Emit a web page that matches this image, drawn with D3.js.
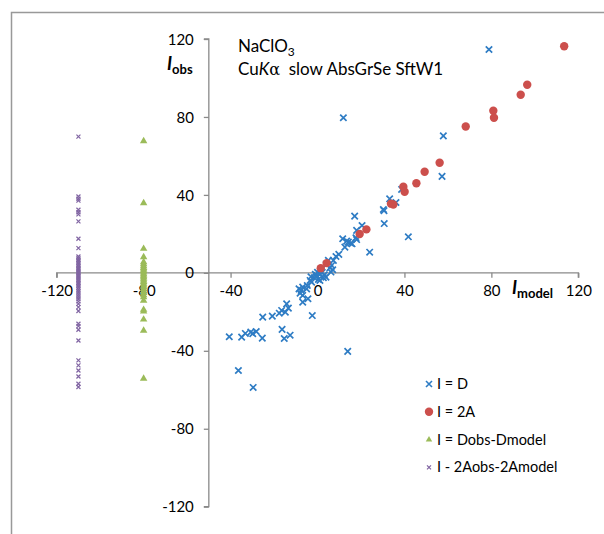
<!DOCTYPE html>
<html><head><meta charset="utf-8">
<script src="https://cdn.jsdelivr.net/npm/d3@7"></script>
<style>
html,body{margin:0;padding:0;background:#fff;}
svg{display:block;font-family:Lato,"Open Sans",sans-serif;}
</style></head>
<body>
<svg id="c" width="604" height="534"></svg>
<script>
// ---- data ----
const seriesNames = ["I = D", "I = 2A", "I = Dobs-Dmodel", "I - 2Aobs-2Amodel"];
const xTicks = [-120, -80, -40, 0, 40, 80, 120];
const yTicks = [-120, -80, -40, 0, 40, 80, 120];
// I = D : [Imodel, Iobs]
const seriesD = [
 [78.9,114.6],[11.9,79.6],[57.9,70.3],[57.3,49.5],[41.8,18.5],[33.2,38.0],[36.1,36.1],
 [30.3,32.5],[30.6,31.9],[30.7,25.3],[38.7,42.8],[17.1,29.1],[20.5,24.3],[18.0,21.8],
 [17.7,18.0],[11.6,17.5],[13.4,16.3],[15.3,15.2],[12.6,13.2],[14.2,15.8],[15.9,14.9],
 [18.0,17.1],[24.0,10.6],[8.5,8.4],[5.0,6.4],[7.3,6.4],[6.5,3.8],[5.7,2.6],[6.2,0.4],
 [3.1,-1.0],[-2.4,-21.9],[-14.2,-15.9],[-13.4,-18.1],[-14.8,-20.2],[-16.5,-19.3],
 [-17.6,-20.7],[-20.8,-22.2],[-25.2,-22.7],[-16.3,-29.0],[-15.3,-33.7],[-12.6,-32.0],
 [-40.6,-32.8],[-34.9,-33.0],[-33.2,-31.1],[-30.7,-30.4],[-29.8,-31.2],[-28.2,-30.1],
 [-25.4,-33.5],[-36.4,-50.1],[13.9,-40.3],[-29.6,-58.8],[-8.5,-8.2],[-6.8,-7.3],
 [-8.0,-10.4],[-6.8,-11.6],[-4.4,-13.3],[-6.8,-15.0],[-4.7,-6.5],[-3.4,-3.9],[-1.5,-2.5],
 [-0.4,-1.3],[1.1,-0.5],[2.2,0.2],[3.9,-2.2],[2.7,-2.5],[0.4,-3.4],[1.1,-3.9],[-2.7,-4.8],
 [-5.0,-8.2],[7.0,1.6],[9.8,9.5],[4.0,4.2],[0.0,0.3],[-1.0,-0.8],[-3.0,-2.0],[-7.5,-9.0]
];
// I = 2A
const series2A = [
 [113.5,116.3],[96.5,96.5],[93.5,91.4],[80.9,83.2],[81.2,79.6],[68.2,75.1],[56.2,56.5],
 [49.3,51.9],[45.5,46.0],[39.5,44.2],[40.1,41.6],[33.8,35.5],[34.9,35.1],[22.5,22.3],
 [19.4,19.9],[1.5,2.4],[4.2,5.0]
];
// I = Dobs-Dmodel (plotted at x = -80)
const diffDx = -80;
const diffD = [67.6,35.8,12.4,8.1,5.5,4.5,3.5,2.6,1.8,1.0,0.2,-0.6,-1.4,-2.2,-3.0,-3.8,
 -4.6,-5.5,-6.4,-7.3,-8.2,-9.2,-10.3,-11.4,-12.5,-14.2,-18.9,-19.8,-23.9,-29.6,-54.3];
// I - 2Aobs-2Amodel (plotted at x = -110)
const diff2Ax = -110;
const diff2A = [69.9,39.2,38.0,37.1,32.4,31.1,30.0,26.4,17.5,12.7,8.4,7.5,6.6,5.8,5.0,4.2,
 3.4,2.6,1.9,1.2,0.5,-0.2,-0.9,-1.6,-2.3,-3.0,-3.7,-4.4,-5.2,-6.0,-6.8,-7.6,-8.5,-9.4,
 -10.3,-11.3,-12.3,-13.4,-14.6,-15.9,-17.6,-19.6,-26.1,-27.3,-29.2,-34.7,-44.9,-47.5,
 -50.1,-53.2,-56.9,-58.6];

// ---- drawing ----
const svg = d3.select("#c");
const colors = ["#2e7cc4", "#cc4f4c", "#9bbb59", "#8064a2"];
const x = d3.scaleLinear().domain([-120, 120]).range([56.7, 578.3]);
const y = d3.scaleLinear().domain([-120, 120]).range([506.7, 39]);
const axisColor = "#8a8a8a";
const fmt = d => String(d);

// outer frame (right/bottom edges fall outside the picture)
svg.append("rect").attr("x", 11.5).attr("y", 12.5).attr("width", 620).attr("height", 560)
  .attr("fill", "none").attr("stroke", "#999").attr("stroke-width", 1.5);

// x axis at y=0
const xAxis = d3.axisBottom(x).tickValues(xTicks).tickSize(5).tickFormat(fmt);
const gx = svg.append("g").attr("transform", `translate(0,${y(0)})`).call(xAxis);
gx.select(".domain").attr("stroke", axisColor).attr("stroke-width", 1.3)
  .attr("d", `M${x(-120)},5V0H${x(120)}V5`);
gx.selectAll(".tick line").attr("stroke", axisColor).attr("stroke-width", 1.3);
gx.selectAll(".tick text").attr("fill", "#000").attr("font-size", 15)
  .attr("font-family", "Lato, sans-serif").attr("y", 13).attr("dy", "0.71em");

// y axis crossing at x=-50
const yAxis = d3.axisLeft(y).tickValues(yTicks).tickSize(5).tickFormat(fmt);
const gy = svg.append("g").attr("transform", `translate(${x(-50)},0)`).call(yAxis);
gy.select(".domain").attr("stroke", axisColor).attr("stroke-width", 1.3)
  .attr("d", `M-5,${y(120)}H0V${y(-120)}H-5`);
gy.selectAll(".tick line").attr("stroke", axisColor).attr("stroke-width", 1.3);
gy.selectAll(".tick text").attr("fill", "#000").attr("font-size", 15)
  .attr("font-family", "Lato, sans-serif").attr("x", -15).attr("dy", "0.34em");

// markers
function cross(g, s) {
  return g.append("path").attr("d", `M${-s},${-s}L${s},${s}M${-s},${s}L${s},${-s}`);
}
const plot = svg.append("g");
seriesD.forEach(d => {
  const g = plot.append("g").attr("transform", `translate(${x(d[0])},${y(d[1])})`);
  cross(g, 3.2).attr("stroke", colors[0]).attr("stroke-width", 1.7).attr("fill", "none");
});
series2A.forEach(d => {
  plot.append("circle").attr("cx", x(d[0])).attr("cy", y(d[1])).attr("r", 4.2).attr("fill", colors[1]);
});
const tri = d3.symbol().type(d3.symbolTriangle).size(24);
diffD.forEach(v => {
  plot.append("path").attr("d", tri()).attr("transform", `translate(${x(diffDx)},${y(v)})`)
    .attr("fill", colors[2]);
});
diff2A.forEach(v => {
  const g = plot.append("g").attr("transform", `translate(${x(diff2Ax)},${y(v)})`);
  cross(g, 2).attr("stroke", colors[3]).attr("stroke-width", 1.2).attr("fill", "none");
});

// axis titles
const yt = svg.append("text").attr("x", 167).attr("y", 70).attr("font-weight", "bold")
  .attr("font-family", "Lato, sans-serif");
yt.append("tspan").attr("font-style", "italic").attr("font-size", 18).text("I");
yt.append("tspan").attr("font-size", 13).attr("dy", 4).text("obs");
const xt = svg.append("text").attr("x", 512).attr("y", 294).attr("font-weight", "bold")
  .attr("font-family", "Lato, sans-serif");
xt.append("tspan").attr("font-style", "italic").attr("font-size", 18).text("I");
xt.append("tspan").attr("font-size", 13).attr("dy", 4).text("model");

// annotation
const t1 = svg.append("text").attr("x", 238).attr("y", 52).attr("font-size", 17);
t1.append("tspan").text("NaClO");
t1.append("tspan").attr("font-size", 12).attr("dy", 4).text("3");
const t2 = svg.append("text").attr("x", 238).attr("y", 75).attr("font-size", 17)
  .attr("xml:space", "preserve");
t2.append("tspan").text("Cu");
t2.append("tspan").attr("font-style", "italic").text("K");
t2.append("tspan").attr("font-family", "DejaVu Serif, serif").attr("font-size", 16).text("\u03B1");
t2.append("tspan").text("\u00A0 slow AbsGrSe SftW1");

// legend
const legY0 = 384, legDy = 27.8, legX = 429;
seriesNames.forEach((name, i) => {
  const cy = legY0 + i * legDy;
  const g = svg.append("g").attr("transform", `translate(${legX},${cy})`);
  if (i === 0) cross(g, 3).attr("stroke", colors[0]).attr("stroke-width", 1.6).attr("fill", "none");
  if (i === 1) g.append("circle").attr("r", 4.2).attr("fill", colors[1]);
  if (i === 2) g.append("path").attr("d", d3.symbol().type(d3.symbolTriangle).size(18)()).attr("fill", colors[2]);
  if (i === 3) cross(g, 2).attr("stroke", colors[3]).attr("stroke-width", 1.2).attr("fill", "none");
  svg.append("text").attr("x", legX + 8).attr("y", cy).attr("dy", "0.35em")
    .attr("font-size", 14.5).text(name);
});
</script>
</body></html>
